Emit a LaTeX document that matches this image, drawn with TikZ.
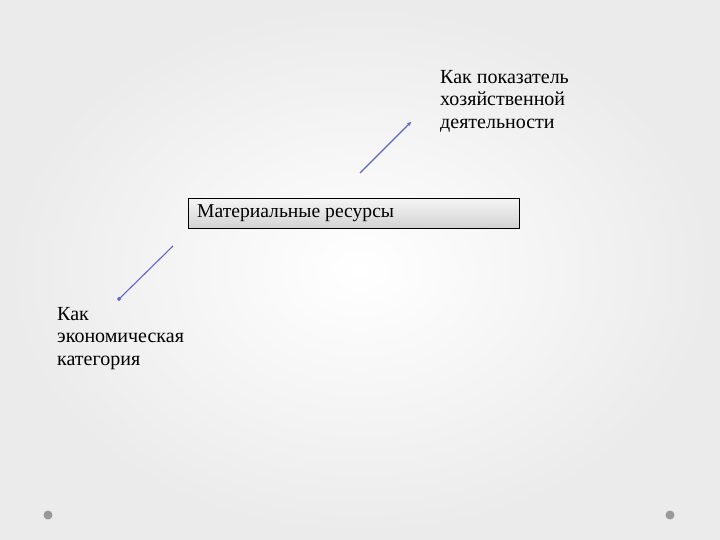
\documentclass[tikz,border=0pt]{standalone}
\usepackage{fontspec}
\setmainfont{Liberation Serif}
\usetikzlibrary{arrows.meta}
\definecolor{linecol}{RGB}{95,100,205}
\tikzset{
  txt/.style={align=left, anchor=north west, inner sep=0pt, font=\fontsize{20}{22.5}\selectfont},
  link/.style={linecol, line width=1.1pt},
  corner/.style={circle, fill=gray!80, inner sep=0pt, minimum size=9pt}
}
\begin{document}
\begin{tikzpicture}[x=1pt, y=-1pt]
  % Фон
  \shade[inner color=white, outer color=gray!16] (0,0) rectangle (720,540);
  \useasboundingbox (0,0) rectangle (720,540);

  % Узлы
  \node[draw=black, line width=0.8pt, top color=gray!8, bottom color=gray!35,
        minimum width=331pt, minimum height=30pt, anchor=north west,
        inner sep=0pt] (res) at (188,198) {};
  \node[anchor=west, font=\fontsize{19.6}{22}\selectfont, inner sep=0pt] (restxt) at (197,213) {Материальные ресурсы};
  \node[txt] (upper) at (440,70) {Как показатель\\хозяйственной\\деятельности};
  \node[txt] (lower) at (57,307) {Как\\экономическая\\категория};
  \node[corner] (dl) at (48,515) {};
  \node[corner] (dr) at (670,515) {};

  \coordinate (a1) at (360,173);
  \coordinate (a2) at (411,122);
  \coordinate (b1) at (173,246);
  \coordinate (b2) at (118,300);

  % Стрелки
  \draw[link, -{Stealth[length=4pt, width=4pt]}] (a1) -- (a2);
  \draw[link, -{Square[length=3pt, width=3pt]}] (b1) -- (b2);
\end{tikzpicture}
\end{document}
